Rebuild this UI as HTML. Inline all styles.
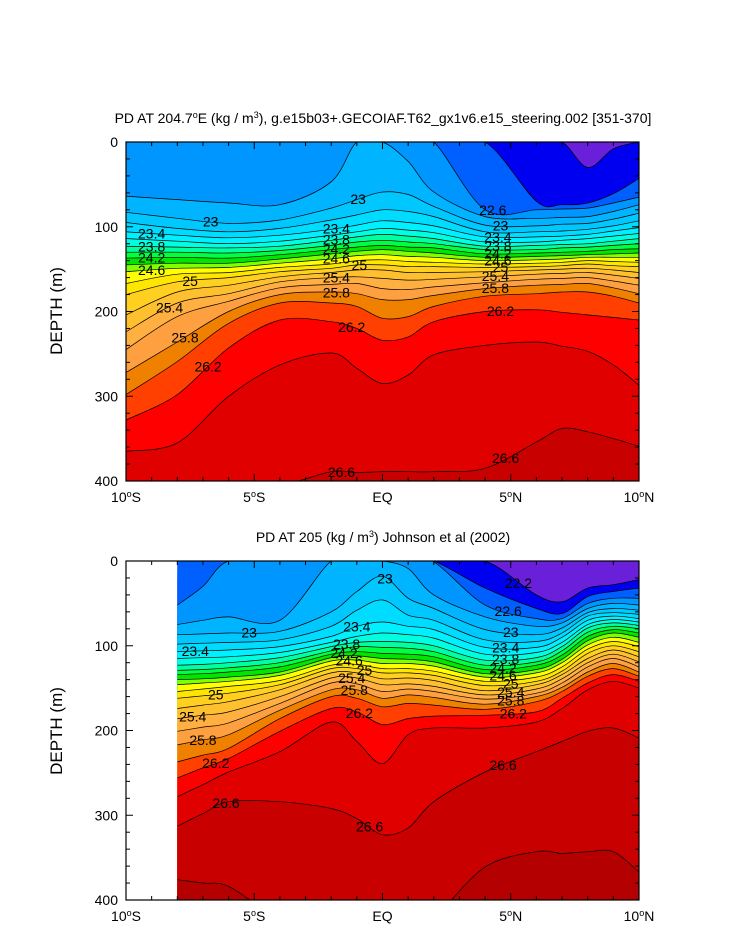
<!DOCTYPE html>
<html><head><meta charset="utf-8"><style>
html,body{margin:0;padding:0;background:#fff}
svg{display:block;font-family:"Liberation Sans",Arial,sans-serif}
</style></head><body>
<svg id="chart" width="733" height="945" viewBox="0 0 733 945">
<text x="383" y="123" text-anchor="middle" font-size="14">PD AT 204.7<tspan dy="-5" font-size="9">o</tspan><tspan dy="5">E (kg / m</tspan><tspan dy="-5" font-size="9">3</tspan><tspan dy="5">), g.e15b03+.GECOIAF.T62_gx1v6.e15_steering.002 [351-370]</tspan></text>
<text x="383" y="542" text-anchor="middle" font-size="14">PD AT 205 (kg / m<tspan dy="-5" font-size="9">3</tspan><tspan dy="5">) Johnson et al (2002)</tspan></text>
<text transform="translate(62,311) rotate(-90)" text-anchor="middle" font-size="17">DEPTH (m)</text>
<text transform="translate(62,731) rotate(-90)" text-anchor="middle" font-size="17">DEPTH (m)</text>
<g id="top"></g>
<g id="bot"></g>
</svg>
<script>
const levels = [22.2,22.4,22.6,22.8,23.0,23.2,23.4,23.6,23.8,24.0,24.2,24.4,24.6,24.8,25.0,25.2,25.4,25.6,25.8,26.0,26.2,26.4,26.6,26.8];
const bandColors = ['#0000f0','#0060ff','#0096ff','#00b4ff','#00c8ff','#00dcff','#00f0ff','#00ffe0','#00ffa0','#00ff40','#00e600','#80ff00','#ffff00','#ffe600','#ffd020','#ffc030','#ffb040','#ffa040','#f08000','#ff4000','#ff0000','#e00000','#c80000','#b40000'];
const belowColor = '#6a1fdb';
const yTicks = [0,100,200,300,400];
const xTicks = [-10,-5,0,5,10];
const xTickLabels = ['10°S','5°S','EQ','5°N','10°N'];

const topLats = [-10,-8,-6,-4,-2,-1,0,1,2,4,6,7,8,9,10];
const topDepths = [
 [0,0,0,0,0,0,0,0,0,0,0,0,30,8,0],
 [0,0,0,0,0,0,0,0,0,0,70,74,72,61,43],
 [0,0,0,0,0,0,0,0,0,80,80,79,78,72,65],
 [64,68,72,74,47,0,0,23,59,88,90,89,88,82,74],
 [83,90,96,92,78,68,59,62,76,98,99,97,96,91,84],
 [95,102,106,102,92,86,80,82,88,106,106,105,103,99,93],
 [106,110,113,110,103,98,93,95,99,112,112,111,109,105,101],
 [114,117,120,117,110,106,102,104,107,118,118,116,114,111,108],
 [123,124,125,123,116,112,109,111,114,123,122,121,120,117,114],
 [130,130,131,128,122,118,116,118,120,127,127,125,124,122,120],
 [137,136,137,133,127,124,122,124,125,132,131,130,129,127,126],
 [145,143,143,138,132,129,127,129,131,136,135,134,133,132,131],
 [153,149,148,143,138,134,133,135,136,140,139,138,136,136,136],
 [167,156,154,148,144,140,139,141,142,144,143,142,140,141,142],
 [180,165,160,153,149,145,145,147,147,148,147,146,144,146,147],
 [204,177,169,159,154,151,151,154,154,153,151,150,149,151,154],
 [224,190,179,165,160,159,161,163,162,159,156,155,154,157,161],
 [245,206,188,172,168,167,173,174,171,166,162,161,160,164,169],
 [272,236,200,180,177,179,186,186,181,173,169,168,167,172,179],
 [298,259,214,190,190,194,208,206,194,182,179,177,177,182,190],
 [328,298,243,210,212,220,234,230,212,200,198,201,204,207,210],
 [365,355,300,263,249,267,285,275,251,240,236,241,247,263,287],
 [420,410,405,405,389,390,389,389,389,385,354,338,342,350,359],
 [420,420,420,420,420,420,420,420,420,420,420,420,420,420,420]
];
const botLats = [-8,-7,-6,-4,-2,-1,0,1,2,4,6,7,8,9,10];
const botDepths = [
 [0,0,0,0,0,0,0,0,0,0,40,48,32,28,22],
 [0,0,0,0,0,0,0,0,0,32,56,62,42,36,32],
 [52,30,0,0,0,0,0,0,1,52,68,68,50,44,44],
 [75,70,66,70,0,0,0,9,40,66,77,73,56,50,52],
 [87,86,85,83,60,36,18,44,56,81,87,79,61,56,58],
 [98,97,96,93,77,58,46,64,70,93,95,85,65,61,63],
 [107,106,105,101,89,77,72,77,81,102,102,90,70,65,68],
 [115,114,113,108,96,89,85,87,91,110,108,96,75,69,72],
 [123,122,120,114,101,96,95,96,100,117,114,101,79,73,76],
 [129,128,126,120,106,101,102,103,107,123,119,106,84,77,80],
 [134,133,131,125,110,107,109,110,113,128,123,111,89,81,85],
 [140,139,137,131,114,112,115,116,119,133,128,116,94,85,90],
 [146,144,142,135,118,117,121,121,124,137,132,120,99,90,96],
 [154,151,148,141,123,122,127,127,130,142,137,125,104,95,101],
 [162,159,156,146,127,127,132,132,135,147,142,130,109,100,107],
 [174,170,166,152,132,132,139,138,141,153,146,134,115,105,113],
 [186,182,178,160,138,138,146,145,148,158,151,139,120,110,119],
 [201,196,191,168,144,145,154,151,154,163,156,144,125,115,125],
 [217,211,205,176,152,152,162,158,161,169,160,149,131,121,131],
 [237,229,221,186,160,162,172,168,170,175,166,154,136,127,136],
 [256,244,233,201,174,178,193,186,183,182,178,162,144,134,142],
 [278,264,249,225,190,213,239,205,197,197,190,174,152,142,150],
 [313,298,284,284,292,304,323,315,284,249,225,213,201,197,209],
 [376,380,384,420,420,420,420,420,420,361,343,345,343,343,367]
];
const topLabels = [[-6.7,23.0],[-9,23.4],[-9,23.8],[-9,24.2],[-9,24.6],[-7.5,25.0],[-8.3,25.4],[-7.7,25.8],[-6.8,26.2],
 [-0.95,23.0],[-1.8,23.4],[-1.8,23.8],[-1.8,24.2],[-1.8,24.6],[-0.9,25.0],[-1.8,25.4],[-1.8,25.8],[-1.2,26.2],[-1.6,26.6],
 [4.3,22.6],[4.6,23.0],[4.5,23.4],[4.5,23.8],[4.5,24.2],[4.5,24.6],[4.6,25.0],[4.4,25.4],[4.4,25.8],[4.6,26.2],[4.8,26.6]];
const botLabels = [[-5.2,23.0],[-7.3,23.4],[-6.5,25.0],[-7.4,25.4],[-7.0,25.8],[-6.5,26.2],[-6.1,26.6],
 [0.1,23.0],[-1.0,23.4],[-1.4,23.8],[-1.5,24.2],[-1.3,24.6],[-0.7,25.0],[-1.2,25.4],[-1.1,25.8],[-0.9,26.2],[-0.5,26.6],
 [5.3,22.2],[4.9,22.6],[5.0,23.0],[4.8,23.4],[4.8,23.8],[4.7,24.2],[4.7,24.6],[5.0,25.0],[5.0,25.4],[5.0,25.8],[5.1,26.2],[4.7,26.6]];

const NS='http://www.w3.org/2000/svg';
function mk(tag,attrs,parent){const e=document.createElementNS(NS,tag);for(const k in attrs)e.setAttribute(k,attrs[k]);if(parent)parent.appendChild(e);return e;}
function smooth(pts){let d='M'+pts[0][0].toFixed(1)+','+pts[0][1].toFixed(1);
 for(let i=0;i<pts.length-1;i++){const p0=pts[i-1]||pts[i],p1=pts[i],p2=pts[i+1],p3=pts[i+2]||p2;
  const c1=[p1[0]+(p2[0]-p0[0])/6,p1[1]+(p2[1]-p0[1])/6],c2=[p2[0]-(p3[0]-p1[0])/6,p2[1]-(p3[1]-p1[1])/6];
  d+=' C'+c1[0].toFixed(1)+','+c1[1].toFixed(1)+' '+c2[0].toFixed(1)+','+c2[1].toFixed(1)+' '+p2[0].toFixed(1)+','+p2[1].toFixed(1);}
 return d;}
function interp(lats,arr,lat){for(let i=0;i<lats.length-1;i++){if(lat>=lats[i]&&lat<=lats[i+1]){const t=(lat-lats[i])/(lats[i+1]-lats[i]);return arr[i]+t*(arr[i+1]-arr[i]);}}return arr[arr.length-1];}

function panel(g,id,y0,lats,depths,labels){
 const x0=126,w=513,h=339;
 const xS=lat=>x0+(lat+10)/20*w;
 const yS=d=>y0+d/400*h;
 const defs=mk('defs',{},g);
 const cp=mk('clipPath',{id:'clip'+id},defs);
 const xa=xS(lats[0]),xb=xS(lats[lats.length-1]);
 mk('rect',{x:xa,y:y0,width:xb-xa,height:h},cp);
 const fg=mk('g',{'clip-path':'url(#clip'+id+')'},g);
 const bg=mk('rect',{x:xa,y:y0,width:xb-xa,height:h,fill:belowColor},fg);
 
 
 const curves=[];
 levels.forEach((lv,k)=>{
  const pts=lats.map((la,i)=>[xS(la),yS(depths[k][i])]);
  const c=smooth(pts);curves.push(c);
  const p=mk('path',{d:c+' L'+(xb+5)+','+(y0+h+40)+' L'+(xa-5)+','+(y0+h+40)+' Z',fill:bandColors[k],stroke:'none'},fg);
  
  
 });
 curves.forEach((c,k)=>{
  const l=mk('path',{d:c,fill:'none',stroke:'#000','stroke-width':0.7},fg);
  
  
 });
 labels.forEach(([la,lv])=>{
  const k=levels.findIndex(v=>Math.abs(v-lv)<1e-6);
  const d=interp(lats,depths[k],la);
  const t=mk('text',{x:xS(la),y:yS(d)+5,'text-anchor':'middle','font-size':14,fill:'#000'},fg);
  t.textContent=(Math.round(lv*10)/10).toString();
  
  
 });
 const fr=mk('rect',{x:x0,y:y0,width:w,height:h,fill:'none',stroke:'#000','stroke-width':1.2},g);
 
 
 for(let d=0;d<=400;d+=20){const maj=d%100===0,L=maj?7:4,y=yS(d);
  mk('line',{x1:x0,y1:y,x2:x0+L,y2:y,stroke:'#000','stroke-width':1},g);
  mk('line',{x1:x0+w,y1:y,x2:x0+w-L,y2:y,stroke:'#000','stroke-width':1},g);}
 yTicks.forEach(v=>{const t=mk('text',{x:x0-8,y:yS(v)+5,'text-anchor':'end','font-size':14},g);t.textContent=v;
  
  });
 for(let la=-10;la<=10;la++){const maj=la%5===0,L=maj?7:4,x=xS(la);
  mk('line',{x1:x,y1:y0+h,x2:x,y2:y0+h-L,stroke:'#000','stroke-width':1},g);
  mk('line',{x1:x,y1:y0,x2:x,y2:y0+L,stroke:'#000','stroke-width':1},g);}
 xTicks.forEach((v,i)=>{const t=mk('text',{x:xS(v),y:y0+h+21,'text-anchor':'middle','font-size':14},g);
  const s=xTickLabels[i];
  if(s.indexOf('°')>=0){const [a,b]=s.split('°');t.appendChild(document.createTextNode(a));
   const s1=mk('tspan',{dy:-5,'font-size':9},t);s1.textContent='o';const s2=mk('tspan',{dy:5},t);s2.textContent=b;}
  else t.textContent=s;
  
  });
}
panel(document.getElementById('top'),'t',142,topLats,topDepths,topLabels);
panel(document.getElementById('bot'),'b',561,botLats,botDepths,botLabels);
</script>
</body></html>
